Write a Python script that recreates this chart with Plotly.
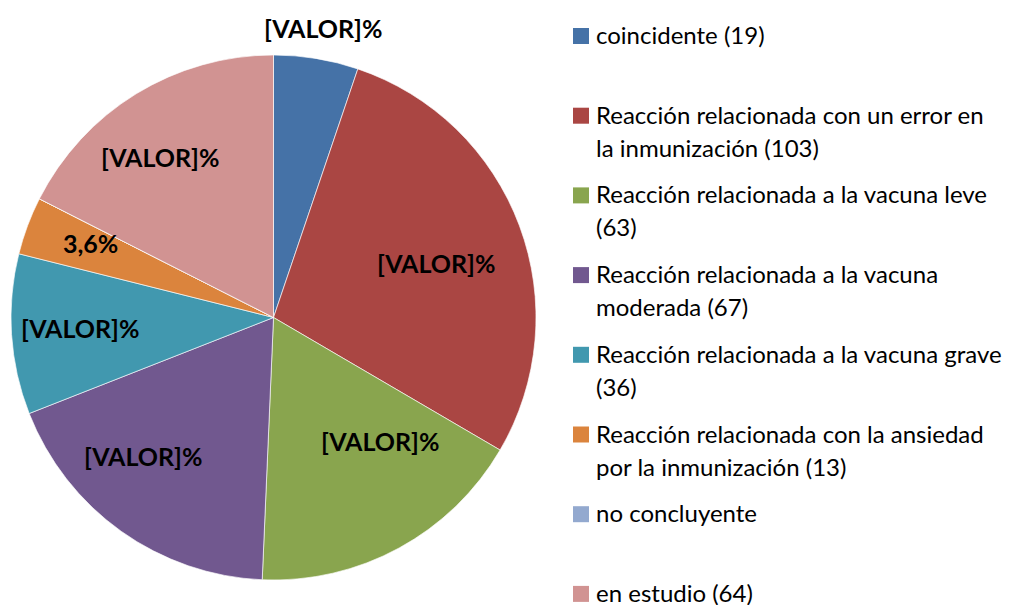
import math
import plotly.graph_objects as go

# Clasificación de los casos (número de casos por categoría)
categorias = [
    "coincidente (19)",
    "Reacción relacionada con un error en\nla inmunización (103)",
    "Reacción relacionada a la vacuna leve\n(63)",
    "Reacción relacionada a la vacuna\nmoderada (67)",
    "Reacción relacionada a la vacuna grave\n(36)",
    "Reacción relacionada con la ansiedad\npor la inmunización (13)",
    "no concluyente",
    "en estudio (64)",
]
casos = [19, 103, 63, 67, 36, 13, 0, 64]
colores = ["#4572A7", "#AA4643", "#89A54E", "#71588F",
           "#4198AF", "#DB843D", "#93A9CF", "#D19392"]
# Etiquetas de porcentaje; None -> se calcula a partir de los casos
etiquetas = ["[VALOR]%", "[VALOR]%", "[VALOR]%", "[VALOR]%",
             "[VALOR]%", None, None, "[VALOR]%"]
# Colocación de cada etiqueta: (fracción del radio, ajuste angular en grados)
pos_etiqueta = [(1.119, 0.3), (0.653, 2.0), (0.621, -12.2), (0.725, 7.8),
                (0.738, 0.6), (0.753, 1.7), (0.7, 0.0), (0.749, -3.7)]

W, H = 1019, 605
cx, cy, r = 273.5, 317.5, 262.5  # centro y radio del gráfico (px)

dom_x = [(cx - r) / W, (cx + r) / W]
dom_y = [(H - cy - r) / H, (H - cy + r) / H]

fig = go.Figure(go.Pie(
    labels=[c.replace("\n", " ") for c in categorias],
    values=casos,
    sort=False,
    direction="clockwise",
    rotation=0,
    textinfo="none",
    hoverinfo="label+value+percent",
    marker=dict(colors=colores, line=dict(color="rgba(255,255,255,0.8)", width=0.8)),
    domain=dict(x=dom_x, y=dom_y),
    showlegend=False,
))

# Etiquetas de datos sobre cada sector
total = sum(casos)
acum = 0
for val, txt, (d, ajuste) in zip(casos, etiquetas, pos_etiqueta):
    medio = math.radians((acum + val / 2) / total * 360 + ajuste)
    acum += val
    if val == 0:
        continue
    if txt is None:
        txt = f"{val / total * 100:.1f}".replace(".", ",") + "%"
    px = cx + d * r * math.sin(medio)
    py = cy - d * r * math.cos(medio)
    fig.add_annotation(
        x=px / W, y=1 - py / H, xref="paper", yref="paper",
        text=f"<b>{txt}</b>", showarrow=False,
        font=dict(family="Lato", size=25, color="#000000"),
        xanchor="center", yanchor="middle",
    )

# Leyenda: un cuadro de color y el texto (hasta dos líneas) por categoría
ley_x_cuadro, ley_lado, ley_x_texto = 573, 16, 594
ley_y0, ley_paso, ley_interlinea = 36, 79.7, 33
for i, (cat, col) in enumerate(zip(categorias, colores)):
    y_item = ley_y0 + i * ley_paso
    fig.add_shape(
        type="rect", xref="paper", yref="paper",
        x0=ley_x_cuadro / W, x1=(ley_x_cuadro + ley_lado) / W,
        y0=1 - (y_item - ley_lado / 2) / H, y1=1 - (y_item + ley_lado / 2) / H,
        fillcolor=col, line=dict(width=0),
    )
    for j, linea in enumerate(cat.split("\n")):
        fig.add_annotation(
            x=ley_x_texto / W, y=1 - (y_item - 1.5 + j * ley_interlinea) / H,
            xref="paper", yref="paper", text=linea, showarrow=False,
            font=dict(family="Lato", size=24, color="#000000"),
            xanchor="left", yanchor="middle",
        )

fig.update_layout(
    width=W, height=H,
    margin=dict(l=0, r=0, t=0, b=0),
    paper_bgcolor="white",
    plot_bgcolor="white",
    font=dict(family="Lato", size=24, color="#000000"),
)

fig.write_html("out.html")
